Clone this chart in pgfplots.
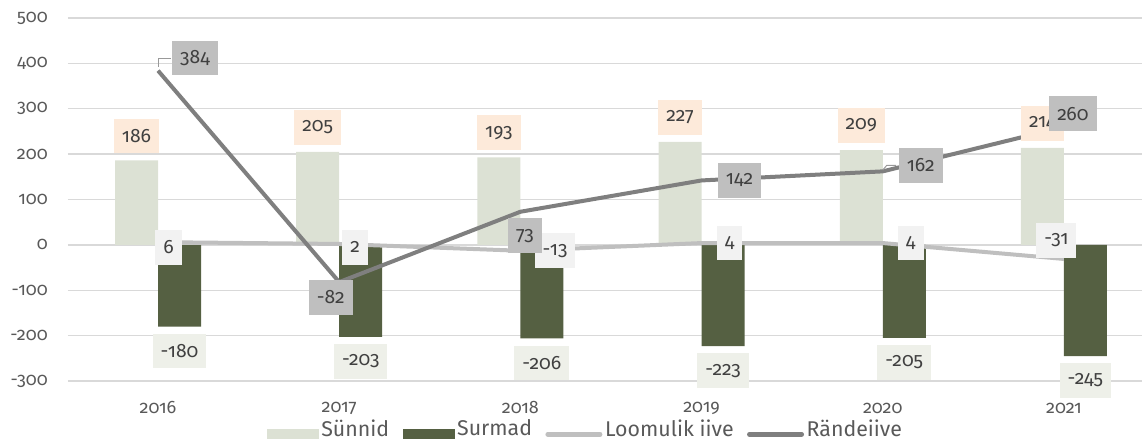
\documentclass[border=0pt]{standalone}
\usepackage{fontspec}
\setmainfont{Fira Sans}[Numbers=OldStyle]
\usepackage{pgfplots}
\usepackage{pgfplotstable}
\pgfplotsset{compat=1.18}

\definecolor{birth}{HTML}{DCE1D4}
\definecolor{death}{HTML}{556042}
\definecolor{natline}{HTML}{BFBFBF}
\definecolor{migline}{HTML}{7F7F7F}
\definecolor{birthlbl}{HTML}{FDEADA}
\definecolor{deathlbl}{HTML}{EEF0E9}
\definecolor{natlbl}{HTML}{F2F2F2}
\definecolor{miglbl}{HTML}{BFBFBF}
\definecolor{txt}{HTML}{595959}
\definecolor{lbltxt}{HTML}{404040}
\definecolor{gridc}{HTML}{D9D9D9}

% x: 0 = 2016 ... 5 = 2021; ndx/ndy, mdx/mdy = label offsets (pt)
\pgfplotstableread{
x  births deaths nat  mig  ndx  ndy  mdx   mdy
0  186    -180   6    384  8    -4   27.75 9.4
1  205    -203   2    -82  12   -2.6 -6.4  -11.6
2  193    -206   -13  73   26   0    3.4   -18
3  227    -223   4    142  21   0    28.5  0
4  209    -205   4    162  21   0    28.5  4.5
5  214    -245   -31  260  -5.6 13.9 6.75  10
}\data

\tikzset{lbl/.style={font=\fontsize{14.5}{16}\selectfont, text=lbltxt,
  inner xsep=6pt, inner ysep=0pt, minimum height=26pt, anchor=center}}

\begin{document}
\begin{tikzpicture}
\begin{axis}[
  scale only axis, width=805.5pt, height=272.25pt,
  xmin=-0.497, xmax=5.431, ymin=-300, ymax=500,
  axis line style={draw=none}, tick style={draw=none},
  xtick={0,...,5}, xticklabels={2016,2017,2018,2019,2020,2021},
  ytick={-300,-200,...,500},
  yticklabels={-300,-200,-100,0,100,200,300,400,500},
  ymajorgrids, grid style={gridc, line width=1pt},
  ticklabel style={font=\fontsize{13.5}{15}\selectfont, text=txt},
  xticklabel style={anchor=center, yshift=-20.25pt},
  yticklabel style={anchor=east, inner sep=0pt, xshift=-15pt},
  clip=false,
  legend columns=4,
  legend style={draw=none, fill=none, at={(0.482,-0.132)}, anchor=center,
    font=\fontsize{16}{18}\selectfont, text=txt, inner sep=0pt,
    /tikz/every even column/.append style={column sep=8pt}},
  legend cell align=left,
]
\addplot[ybar, bar width=32.25pt, bar shift=-16.125pt, fill=birth, draw=none,
  legend image code/.code={\fill[birth] (0pt,-7.5pt) rectangle (39pt,0pt);}]
  table[x=x, y=births]{\data};
\addlegendentry{Sünnid}
\addplot[ybar, bar width=32.25pt, bar shift=16.125pt, fill=death, draw=none,
  legend image code/.code={\fill[death] (0pt,-7.5pt) rectangle (39pt,0pt);}]
  table[x=x, y=deaths]{\data};
\addlegendentry{Surmad}
\addplot[natline, line width=3pt, line join=round, mark=none,
  legend image code/.code={\draw[natline, line width=3.5pt, line cap=round] (1.75pt,-4pt) -- (41pt,-4pt);}]
  table[x=x, y=nat]{\data};
\addlegendentry{Loomulik iive}
\addplot[migline, line width=3pt, line join=round, mark=none,
  legend image code/.code={\draw[migline, line width=3.5pt, line cap=round] (1.75pt,-4pt) -- (41pt,-4pt);}]
  table[x=x, y=mig]{\data};
\addlegendentry{Rändeiive}

% leader lines
\draw[natline!80!black, line width=0.75pt] ([yshift=3pt]axis cs:0,384) -- ++(0pt,6pt) -- ++(9.75pt,0pt);
\draw[natline!80!black, line width=0.75pt] ([yshift=1pt]axis cs:4,162) -- ++(3pt,3.5pt) -- ++(7pt,0pt);

% data labels
\addplot[draw=none, mark=none, forget plot, point meta=explicit symbolic,
  nodes near coords, nodes near coords style={lbl, fill=birthlbl, xshift=-16.125pt, yshift=18.4pt}]
  table[x=x, y=births, meta=births]{\data};
\addplot[draw=none, mark=none, forget plot, point meta=explicit symbolic,
  nodes near coords, nodes near coords style={lbl, fill=deathlbl, xshift=16.125pt, yshift=-18.4pt}]
  table[x=x, y=deaths, meta=deaths]{\data};
\addplot[draw=none, mark=none, forget plot, point meta=explicit symbolic,
  visualization depends on={\thisrow{ndx}\as\ndx},
  visualization depends on={\thisrow{ndy}\as\ndy},
  nodes near coords, nodes near coords style={lbl, fill=natlbl, xshift=\ndx pt, yshift=\ndy pt}]
  table[x=x, y=nat, meta=nat]{\data};
\addplot[draw=none, mark=none, forget plot, point meta=explicit symbolic,
  visualization depends on={\thisrow{mdx}\as\mdx},
  visualization depends on={\thisrow{mdy}\as\mdy},
  nodes near coords, nodes near coords style={lbl, fill=miglbl, xshift=\mdx pt, yshift=\mdy pt}]
  table[x=x, y=mig, meta=mig]{\data};

\coordinate (plotbl) at (rel axis cs:0,0);
\coordinate (plottr) at (rel axis cs:1,1);
\end{axis}
\pgfresetboundingbox
\path ([xshift=-51pt,yshift=-45pt]plotbl) rectangle ([yshift=13.5pt]plottr);
\end{tikzpicture}
\end{document}
